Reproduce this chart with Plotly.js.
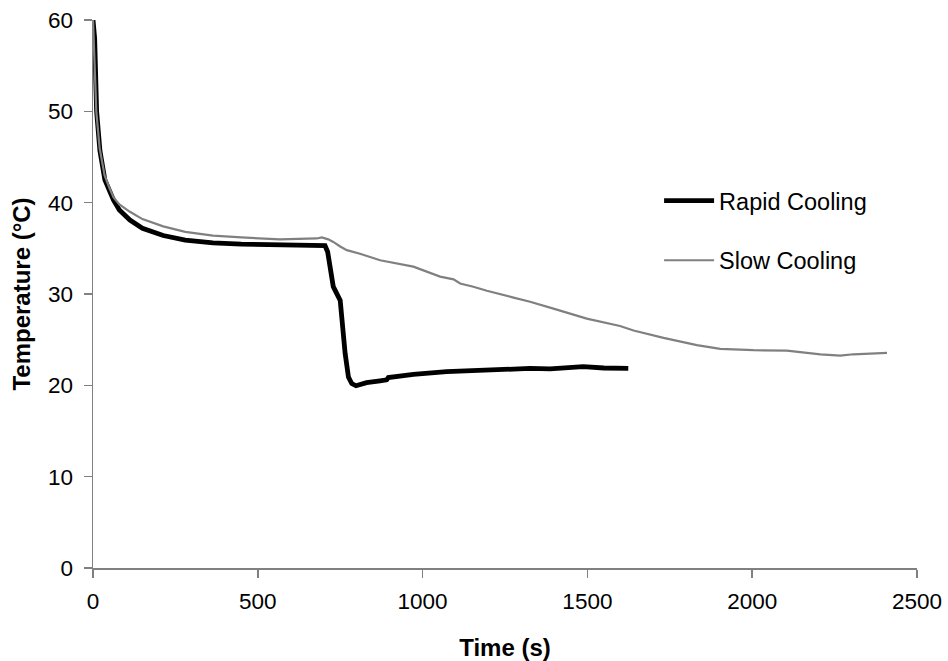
<!DOCTYPE html>
<html>
<head>
<meta charset="utf-8">
<script src="https://cdn.plot.ly/plotly-3.0.1.min.js"></script>
<style>html,body{margin:0;padding:0;background:#fff}#chart{width:948px;height:661px}</style>
</head>
<body>
<div id="chart"></div>
<script>
const rapidTime = [0, 5, 11, 21, 36, 50, 62, 80, 112, 150, 213, 280, 364, 450, 550, 628, 699, 704, 712, 719, 729, 750, 755, 765, 775, 785, 798, 830, 871, 891, 896, 972, 1073, 1175, 1326, 1387, 1487, 1550, 1624];
const rapidTemp = [60, 58, 50, 45.7, 42.5, 41.2, 40.3, 39.2, 38.1, 37.2, 36.4, 35.9, 35.6, 35.45, 35.4, 35.35, 35.35, 35.3, 34.6, 33.3, 30.8, 29.3, 27.1, 23.5, 20.9, 20.2, 19.95, 20.3, 20.5, 20.6, 20.85, 21.2, 21.5, 21.65, 21.85, 21.8, 22.05, 21.9, 21.85];

const slowTime = [0, 4, 10, 20, 35, 50, 62, 80, 112, 150, 213, 280, 364, 450, 567, 679, 694, 714, 729, 750, 770, 810, 871, 972, 1013, 1053, 1094, 1114, 1154, 1195, 1276, 1326, 1397, 1498, 1599, 1640, 1731, 1832, 1903, 2004, 2105, 2207, 2267, 2307, 2409];
const slowTemp = [60, 55.6, 50, 46, 43, 41.6, 40.6, 39.8, 39.0, 38.2, 37.4, 36.8, 36.4, 36.2, 35.98, 36.08, 36.2, 35.98, 35.7, 35.2, 34.8, 34.4, 33.7, 33.0, 32.4, 31.9, 31.6, 31.15, 30.8, 30.35, 29.6, 29.15, 28.4, 27.3, 26.5, 26.0, 25.2, 24.4, 24.0, 23.85, 23.8, 23.4, 23.25, 23.4, 23.55];

const xTicks = [0, 500, 1000, 1500, 2000, 2500];
const yTicks = [0, 10, 20, 30, 40, 50, 60];
const seriesNames = ["Rapid Cooling", "Slow Cooling"];

const font = "Liberation Sans, Arial, sans-serif";

const data = [
  {x: rapidTime, y: rapidTemp, type: "scatter", mode: "lines", name: seriesNames[0],
   line: {color: "#000000", width: 4.8}, legendgroup: "a", cliponaxis: false},
  {x: slowTime, y: slowTemp, type: "scatter", mode: "lines", name: seriesNames[1],
   line: {color: "#808080", width: 2.2}, legendgroup: "b", cliponaxis: false}
];

const layout = {
  width: 948, height: 661,
  margin: {l: 93, r: 31, t: 20, b: 93},
  paper_bgcolor: "#fff", plot_bgcolor: "#fff",
  font: {family: font, size: 22.5, color: "#000"},
  showlegend: true,
  legend: {x: 0.687, y: 0.71, xanchor: "left", yanchor: "top", bgcolor: "rgba(0,0,0,0)",
           font: {family: font, size: 23.5, color: "#000"}, tracegroupgap: 26, itemwidth: 50},
  xaxis: {
    range: [0, 2500], tickvals: xTicks, ticktext: xTicks.map(String),
    showgrid: false, zeroline: false, showline: true, linecolor: "#808080", linewidth: 1.5,
    ticks: "outside", ticklen: 8, tickcolor: "#808080", tickwidth: 1.5, ticklabelstandoff: 4,
    tickfont: {family: font, size: 22.5, color: "#000"},
    title: {text: "<b>Time (s)</b>", font: {family: font, size: 24, color: "#000"}, standoff: 28}
  },
  yaxis: {
    range: [0, 60], tickvals: yTicks, ticktext: yTicks.map(String),
    showgrid: false, zeroline: false, showline: true, linecolor: "#808080", linewidth: 1.5,
    ticks: "outside", ticklen: 8, tickcolor: "#808080", tickwidth: 1.5, ticklabelstandoff: 6,
    tickfont: {family: font, size: 22.5, color: "#000"},
    title: {text: "<b>Temperature (°C)</b>", font: {family: font, size: 24, color: "#000"}, standoff: 10}
  }
};

Plotly.newPlot("chart", data, layout, {displayModeBar: false, staticPlot: true});
</script>
</body>
</html>
